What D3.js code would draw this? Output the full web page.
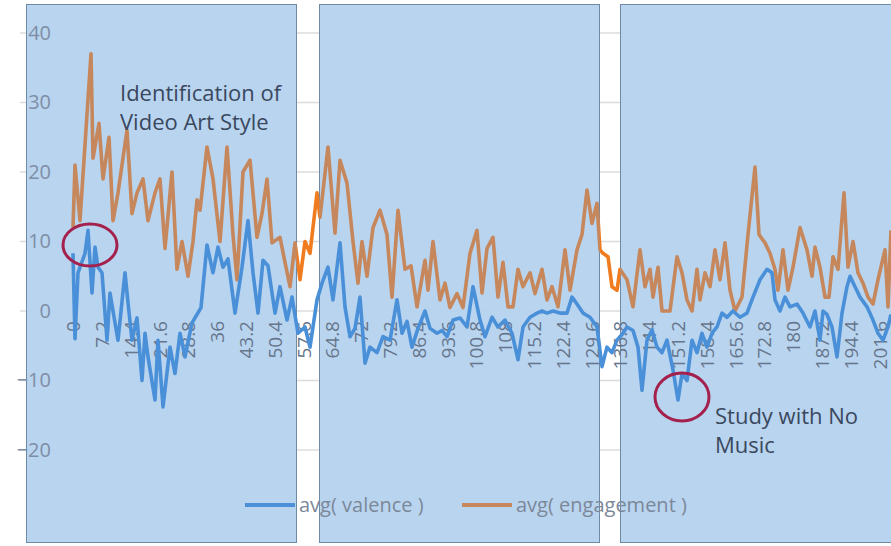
<!DOCTYPE html>
<html>
<head>
<meta charset="utf-8">
<script src="https://cdn.jsdelivr.net/npm/d3@7"></script>
<style>
  body { margin: 0; background: #fff; }
  text { font-family: "Open Sans", Lato, sans-serif; }
</style>
</head>
<body>
<div id="chart"></div>
<script>
// Time (s) and values
const engagementTime = [0, 0.5, 1.75, 4.5, 5, 6.5, 7.5, 9, 10, 11.25, 13.5, 14.75, 16, 17.5, 18.75, 20.5, 21.75, 23, 24.75, 26,
  27.25, 28.75, 30, 31, 31.75, 33.5, 35, 36.75, 38.5, 40, 41, 42.5, 44.25, 46, 47.25, 48.5, 49.75, 51.75, 53, 54.25,
  55.5, 56.75, 58, 59.25, 61, 61.75, 63.75, 65.5, 66.75, 68.5, 70, 71.25, 72.25, 73.5, 75, 76.75, 78.5, 79.75, 81.25, 83,
  84.5, 86, 88, 88.75, 90, 91.75, 93, 94.25, 96, 97.5, 99.25, 101, 102.25, 103.5, 105, 106.25, 107.5, 108.75, 110, 111.25,
  112.5, 114.25, 115.5, 117.25, 118.5, 119.75, 121.25, 123, 124.25, 126, 127.25, 128.5, 129.75, 131, 131.75, 132.5, 133.75, 134.75,
  136, 136.75, 138.5, 140, 141.75, 143, 144.25, 145, 146.25, 147.25, 149.25, 151, 152.25, 153.5, 154.75, 156, 156.75, 158,
  159.25, 160.5, 161.75, 163, 164.25, 165.5, 167.25, 168.75, 170.5, 171.5, 173, 174.25, 175.5, 176.25, 177.5, 178.75, 180, 181.75,
  183.5, 184.75, 185.5, 186.75, 188, 189, 190, 191.25, 192.75, 193.75, 195, 196.25, 197.5, 198.75, 200, 201.25, 203, 203.75, 204.5];
const engagementValue = [12, 21, 13, 37, 22, 27, 19, 25, 13, 17, 26, 14, 17, 19, 13, 17, 19, 9, 20, 6,
  10, 5, 10, 16, 14.5, 23.6, 19, 10, 23.6, 11, 4.5, 20, 21.7, 10.6, 14, 19, 9.8, 10.6, 7, 3.5,
  9.8, 4.5, 10, 8.3, 17, 13.5, 23.6, 11.2, 21.7, 18.4, 10, 4, 10, 5, 12, 14.5, 11, 2, 14.5, 6,
  6.5, 0.6, 7.3, 3, 10, 1.6, 4, 0.5, 2.5, 0.5, 8.3, 11.6, 2.6, 9, 10.6, 2, 7, 0.6, 0.6, 6,
  3.5, 5.5, 2.5, 6, 1.6, 3.5, 0.6, 8.8, 3, 8.8, 11, 17.4, 12.6, 15.5, 8.8, 8.3, 7.8, 3.5,
  3, 6, 4.5, 0.6, 8.8, 3.5, 6, 2, 6.3, 0, 0, 7.8, 5.5, 1.6, 0, 6, 1.6, 5.5,
  3.5, 8.8, 4.5, 9.8, 3, 0, 2, 11, 20.7, 11, 9.8, 8.3, 6, 3, 8.8, 3, 6.3, 12,
  8.8, 5, 9.2, 6.3, 2, 2, 7.8, 6, 17, 6.3, 10, 5.5, 4, 2, 1, 4.5, 8.8, 0.6, 11.6];

const valenceTime = [0, 0.5, 1.25, 3, 3.75, 4.75, 5.5, 6.25, 7.25, 8.5, 9.25, 10.5, 11.25, 13, 13.75, 14.75, 16, 17.25, 18, 18.75,
  20.5, 21.25, 22.5, 24.25, 25.5, 26.75, 28, 29.75, 31, 32, 33.5, 35, 36.25, 37.5, 38.75, 40.5, 42.25, 43.75, 45, 46.25,
  47.5, 48.75, 50.5, 51.75, 53.5, 54.75, 56.25, 58, 59.25, 61, 62.25, 63.75, 65, 66.75, 68, 69.25, 70.5, 71.75, 73, 74.25,
  76, 77.5, 79.25, 81, 82.25, 83.5, 84.75, 86.25, 88, 89.25, 91, 92.25, 93.5, 95, 96.75, 98.5, 100, 101.75, 103, 104.75,
  106.25, 108, 109.75, 111.25, 112.5, 114.25, 116, 117.25, 118.5, 120, 121.75, 123.5, 124.75, 126, 127.5, 129.25, 131, 132.25, 133.5, 134.75,
  136, 137.5, 138.5, 140, 141.25, 142.25, 143.5, 144.75, 146, 147.25, 148.5, 150, 151.25, 152.25, 153.5, 154.75, 156, 157.25, 158.5, 159.75,
  161, 162.25, 163.5, 165, 166.75, 168.5, 170, 171.75, 173.5, 174.75, 175.5, 176.75, 178, 179.25, 181, 182.5, 184.25, 185.5, 186.75, 187.5,
  188.5, 189.75, 191, 192.25, 193.5, 194.25, 195.5, 196.75, 198.5, 200, 201.25, 202.5, 203.75, 204.5];
const valenceValue = [8.3, -4, 5.5, 8.3, 11.6, 2.6, 9.2, 6.3, 5.5, -4.2, 2.6, -1.7, -4.2, 5.5, 1.2, -4.2, -1, -10, -3.2, -6.6,
  -12.8, -4.2, -13.8, -5.2, -9, -3.2, -6.6, -1.7, -0.5, 0.5, 9.5, 5.5, 9.2, 6.3, 7.5, -0.3, 6.3, 13, 5.5, -0.3,
  7.3, 6.5, -0.3, 3.5, -1.3, 2, -3.2, -2.3, -5.2, 1.6, 4, 6.3, 1.6, 9.8, 0.6, -3.7, -2.5, 2, -7.5, -5.2,
  -6, -3.7, -4.2, 1.6, -3.2, -1.5, -5.2, -2.5, 0, -2.5, -3.2, -2.8, -3.7, -1.3, -1, -2.3, 3.5, -1.3, -3.7, -0.9,
  -2.3, -1.3, -3.2, -7, -2.3, -0.9, -0.3, 0, -0.3, 0, -0.3, -0.3, 2, 1, -0.3, -0.9, -2.3, -8, -5.2, -6,
  -4.2, -3.2, -2.3, -2.8, -5.2, -11.4, -4.2, -2.7, -5.2, -6, -4.2, -8.5, -12.8, -9, -10, -4.2, -6, -3.2, -5.2, -3.2,
  -2.3, -0.3, -0.9, 0, -0.9, -0.3, 2, 4.5, 6, 5.5, 1.6, 0, 2, 0.6, 1, -0.3, -2.3, 0, -4.2, 0,
  -0.5, -2.3, -6.6, -0.3, 3.5, 5, 3.5, 2, 0.6, -1.3, -3.2, -4.2, -2.3, -0.5];

const xTickValues = [0, 7.2, 14.4, 21.6, 28.8, 36, 43.2, 50.4, 57.6, 64.8, 72, 79.2, 86.4, 93.6, 100.8,
  108, 115.2, 122.4, 129.6, 136.8, 144, 151.2, 158.4, 165.6, 172.8, 180, 187.2, 194.4, 201.6];
const yTickValues = [-20, -10, 0, 10, 20, 30, 40];
const seriesNames = ["avg( valence )", "avg( engagement )"];
const notes = [["Identification of", "Video Art Style"], ["Study with No", "Music"]];

const W = 891, H = 546;
const svg = d3.select("#chart").append("svg")
  .attr("width", W)
  .attr("height", H);

const x = d3.scaleLinear().domain([0, 204.5]).range([73, 891]);
const y = d3.scaleLinear().domain([-20, 40]).range([450, 33]);

const engagement = engagementTime.map((t, i) => ({ t, v: engagementValue[i] }));
const valence = valenceTime.map((t, i) => ({ t, v: valenceValue[i] }));

// highlighted blocks laid over the chart (pixel layout)
const panels = [[26, 297], [319, 600], [620, 900]];
const gaps = [[297, 319], [600, 620]];

const defs = svg.append("defs");
defs.append("clipPath").attr("id", "inPanels")
  .selectAll("rect").data(panels).join("rect")
  .attr("x", d => d[0]).attr("width", d => d[1] - d[0])
  .attr("y", 0).attr("height", H);
defs.append("clipPath").attr("id", "inGaps")
  .selectAll("rect").data(gaps).join("rect")
  .attr("x", d => d[0]).attr("width", d => d[1] - d[0])
  .attr("y", 0).attr("height", H);

// gridlines
svg.append("g")
  .selectAll("line")
  .data(yTickValues)
  .join("line")
  .attr("x1", 20).attr("x2", W)
  .attr("y1", d => y(d)).attr("y2", d => y(d))
  .attr("stroke", "#dcdcdc")
  .attr("stroke-width", 1.5);

// blue panels
svg.append("g")
  .selectAll("rect")
  .data(panels)
  .join("rect")
  .attr("x", d => d[0] + 0.5)
  .attr("y", 4.5)
  .attr("width", d => d[1] - d[0] - 1)
  .attr("height", 538)
  .attr("fill", "#b5d2ee")
  .attr("fill-opacity", 0.95)
  .attr("stroke", "#6f8aa6")
  .attr("stroke-width", 1);

// y axis labels
svg.append("g")
  .call(d3.axisLeft(y).tickValues(yTickValues).tickSize(0).tickPadding(0))
  .attr("transform", "translate(51,0)")
  .call(g => g.select(".domain").remove())
  .call(g => g.selectAll("text")
    .attr("fill", "#7d8ea6")
    .style("font-size", "20px")
    .style("font-family", "'Open Sans', sans-serif"));

// x axis labels (rotated)
svg.append("g")
  .attr("transform", `translate(0,${y(0)})`)
  .call(d3.axisBottom(x).tickValues(xTickValues).tickFormat(d => String(d)).tickSize(0))
  .call(g => g.select(".domain").remove())
  .call(g => g.selectAll("text")
    .attr("fill", "#66768c")
    .attr("transform", "rotate(-90)")
    .attr("x", -10)
    .attr("y", 0)
    .attr("dy", "0.35em")
    .style("text-anchor", "end")
    .style("font-size", "19px")
    .style("font-family", "'Open Sans', sans-serif"));

const line = d3.line().x(d => x(d.t)).y(d => y(d.v));

// engagement: brown under the panels, orange in the gaps
svg.append("path").datum(engagement)
  .attr("d", line).attr("fill", "none")
  .attr("stroke", "#c5875b").attr("stroke-width", 3.6)
  .attr("stroke-linejoin", "round")
  .attr("clip-path", "url(#inPanels)");
svg.append("path").datum(engagement)
  .attr("d", line).attr("fill", "none")
  .attr("stroke", "#f07c1f").attr("stroke-width", 3.6)
  .attr("stroke-linejoin", "round")
  .attr("clip-path", "url(#inGaps)");

// valence
svg.append("path").datum(valence)
  .attr("d", line).attr("fill", "none")
  .attr("stroke", "#4a90d9").attr("stroke-width", 3.6)
  .attr("stroke-linejoin", "round");

// legend
const legend = svg.append("g").attr("transform", "translate(0,505)");
const legendColors = ["#4a90d9", "#c5875b"];
const legendX = [245, 462];
seriesNames.forEach((name, i) => {
  legend.append("line")
    .attr("x1", legendX[i]).attr("x2", legendX[i] + 50)
    .attr("y1", 0).attr("y2", 0)
    .attr("stroke", legendColors[i]).attr("stroke-width", 4);
  legend.append("text")
    .attr("x", legendX[i] + 54).attr("y", 0).attr("dy", "0.35em")
    .attr("fill", "#7b8899")
    .style("font-size", "20px")
    .text(name);
});

// annotations
const noteText = svg.append("g").attr("fill", "#3a485e").style("font-size", "22px");
[[120, 101], [715, 424]].forEach((p, i) => {
  notes[i].forEach((s, j) => {
    noteText.append("text").attr("x", p[0]).attr("y", p[1] + j * 29).text(s);
  });
});

svg.append("g")
  .selectAll("ellipse")
  .data([[90, 245, 27, 21], [682, 397, 27, 24]])
  .join("ellipse")
  .attr("cx", d => d[0]).attr("cy", d => d[1])
  .attr("rx", d => d[2]).attr("ry", d => d[3])
  .attr("fill", "none")
  .attr("stroke", "#a3214c")
  .attr("stroke-width", 3);
</script>
</body>
</html>
